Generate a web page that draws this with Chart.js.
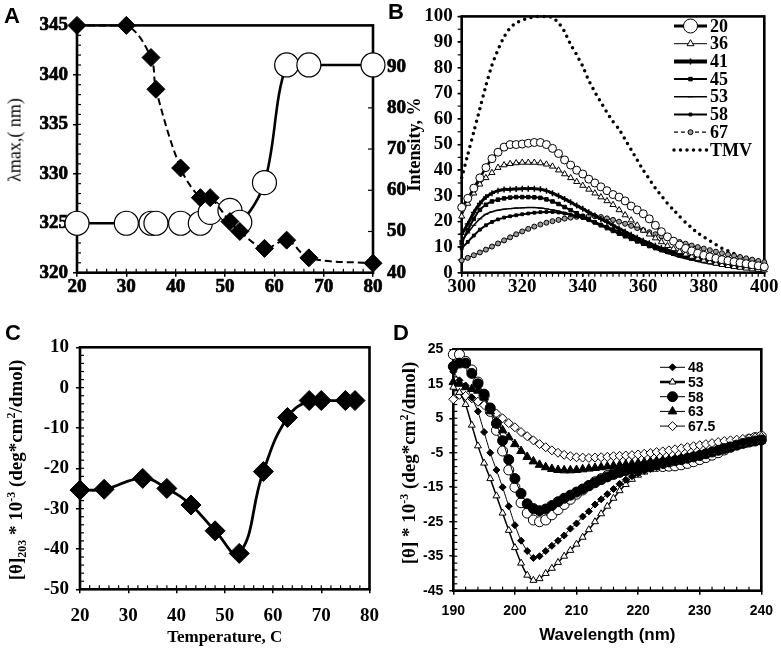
<!DOCTYPE html>
<html>
<head>
<meta charset="utf-8">
<script src="https://cdn.jsdelivr.net/npm/chart.js@4.4.1/dist/chart.umd.min.js"></script>
<style>
  html, body { margin: 0; padding: 0; background: #fff; }
  #wrap { position: relative; width: 781px; height: 649px; overflow: hidden; }
  canvas { position: absolute; }
  #titleA {
    position: absolute; left: 15px; top: 140px;
    transform: translate(-50%, -50%) rotate(-90deg);
    font: 18px "Liberation Serif", "Times New Roman", serif; color: #000; white-space: nowrap;
  }
</style>
</head>
<body>
<div id="wrap">
  <canvas id="chartA" width="410" height="310" style="left:0px;top:0px"></canvas>
  <div id="titleA">λmax,( nm)</div>
  <canvas id="chartB" width="401" height="310" style="left:380px;top:0px"></canvas>
  <canvas id="chartC" width="390" height="329" style="left:0px;top:320px"></canvas>
  <canvas id="chartD" width="391" height="329" style="left:390px;top:320px"></canvas>
</div>
<script>
var SERIF = '"Liberation Serif", "Times New Roman", serif';
var SANS = '"Liberation Sans", Arial, sans-serif';

// ---- panel A: lambda max and intensity vs temperature
var tempA = [20, 30, 35, 36, 41, 45, 47, 51, 53, 58, 62.5, 67, 80];
var lambdaMaxA = [325, 325, 325, 325, 325, 325, 326.1, 326.3, 325.1, 329.1, 341, 341, 341];
var intensityA = [100, 100, 92.2, 84.5, 65.4, 58.2, 58.2, 52.4, 50, 45.9, 47.9, 43.6, 42.3];

// ---- panel B: emission spectra (intensity %) vs wavelength
var wavelengthB = [300, 302, 304, 306, 308, 310, 312, 314, 316, 318, 320, 322, 324, 326, 328, 330, 332, 334, 336, 338,
  340, 342, 344, 346, 348, 350, 352, 354, 356, 358, 360, 362, 364, 366, 368, 370, 372, 374, 376, 378,
  380, 382, 384, 386, 388, 390, 392, 394, 396, 398, 400];
var spec20 = [25.5, 29, 33, 37, 41, 44.5, 47, 49, 50, 50, 50.2, 50.5, 50.8, 50.8, 50, 48.5, 46.5, 44, 42, 40,
  38.5, 36.5, 35, 33.5, 32, 30.5, 29.5, 28, 26, 24.5, 23, 21, 18.5, 16, 14, 12.3, 10.8, 9.5, 8.5, 7.6,
  6.8, 6.2, 5.6, 5.1, 4.7, 4.3, 3.9, 3.5, 3.1, 2.7, 2.3];
var spec36 = [22, 27, 31, 34.5, 37, 39, 41, 42, 42.5, 42.8, 43, 43, 43, 42.8, 42.3, 41.5, 40, 38.5, 37, 35.5,
  34, 32.5, 31, 29.5, 28, 26.5, 24.5, 22.5, 20.5, 18.5, 16.5, 15, 13.5, 12, 10.5, 9.3, 8.2, 7.2, 6.3, 5.5,
  4.8, 4.2, 3.6, 3.1, 2.7, 2.3, 2, 1.7, 1.4, 1.2, 1];
var spec41 = [15, 19, 23.5, 27, 29.5, 31, 32, 32.5, 32.5, 32.7, 32.8, 32.8, 32.8, 32.6, 32, 31, 30, 28.8, 27.5, 26.2,
  25, 23.6, 22.3, 21, 19.8, 18.5, 17.2, 16, 14.8, 13.6, 12.5, 11.5, 10.5, 9.6, 8.8, 8, 7.3, 6.6, 6, 5.5,
  5, 4.6, 4.2, 3.9, 3.6, 3.3, 3.1, 2.9, 2.7, 2.5, 2.3];
var spec45 = [11.5, 16.5, 21, 24.5, 26.5, 27.8, 28.5, 29, 29.3, 29.5, 29.5, 29.5, 29.4, 29.2, 28.6, 27.8, 26.8, 25.6, 24.4, 23.2,
  22, 20.8, 19.6, 18.5, 17.4, 16.3, 15.2, 14.2, 13.2, 12.2, 11.3, 10.4, 9.6, 8.8, 8.1, 7.4, 6.8, 6.2, 5.7, 5.2,
  4.8, 4.4, 4, 3.7, 3.4, 3.1, 2.9, 2.7, 2.5, 2.3, 2.2];
var spec53 = [12.5, 15.5, 18.5, 21, 22.8, 23.8, 24.4, 24.8, 25, 25.2, 25.3, 25.4, 25.4, 25.2, 24.9, 24.5, 24, 23.4, 22.8, 22,
  21.2, 20.3, 19.3, 18.3, 17.3, 16.2, 15.2, 14.2, 13.2, 12.2, 11.2, 10.2, 9.3, 8.4, 7.6, 6.8, 6.1, 5.5, 4.9, 4.4,
  3.9, 3.5, 3.1, 2.8, 2.5, 2.2, 2, 1.8, 1.6, 1.4, 1.3];
var spec58 = [9.5, 12, 14.5, 16.8, 18.5, 19.8, 20.8, 21.5, 22, 22.4, 22.8, 23.1, 23.4, 23.6, 23.7, 23.7, 23.5, 23.1, 22.6, 22,
  21.3, 20.5, 19.7, 18.8, 17.9, 17, 16, 15, 14, 13, 12, 11.1, 10.2, 9.3, 8.5, 7.7, 7, 6.3, 5.7, 5.1,
  4.6, 4.2, 3.8, 3.4, 3.1, 2.8, 2.6, 2.4, 2.2, 2, 1.9];
var spec67 = [4.8, 5.8, 6.8, 7.9, 9, 10.2, 11.4, 12.6, 13.8, 15, 16.1, 17.1, 18, 18.8, 19.5, 20.1, 20.6, 21.1, 21.5, 21.8,
  22, 22.1, 22, 21.7, 21.2, 20.6, 19.9, 19.1, 18.3, 17.4, 16.6, 15.8, 15, 14.2, 13.4, 12.7, 12, 11.3, 10.6, 10,
  9.4, 8.8, 8.2, 7.6, 7.1, 6.6, 6.1, 5.6, 5.1, 4.6, 4.1];
var specTMV = [37, 46, 55, 64, 73, 81, 87, 92, 95.5, 97.5, 98.5, 99.3, 99.8, 100, 100, 99.5, 97.5, 94, 89, 85,
  80.5, 75, 70.5, 66.5, 62.5, 59, 56, 52, 48, 44, 40, 36.5, 33, 30, 27, 24.5, 22, 19.5, 17.5, 15.5,
  14, 12.5, 11, 9.5, 8.5, 7.5, 6.5, 5.5, 4.8, 4.2, 3.7];

// ---- panel C: ellipticity at 203 nm vs temperature
var tempC = [20, 25, 33, 38, 43, 48, 53, 58, 63, 67.5, 70, 75, 77];
var theta203 = [-25.4, -25.2, -22.5, -25, -29.1, -35.5, -41.1, -20.8, -7.4, -3.2, -3.2, -3.2, -3.2];

// ---- panel D: CD spectra vs wavelength
var wavelengthD = [190, 191, 192, 193, 194, 195, 196, 197, 198, 199, 200, 201, 202, 203, 204, 205, 206, 207, 208, 209,
  210, 211, 212, 213, 214, 215, 216, 217, 218, 219, 220, 221, 222, 223, 224, 225, 226, 227, 228, 229,
  230, 231, 232, 233, 234, 235, 236, 237, 238, 239, 240];
var cd48 = [18.5, 16, 14.5, 11, 7, 1, -5, -10, -15, -20.5, -26, -30.5, -33.5, -35.5, -35, -33.5, -32, -30.5, -29, -27,
  -25.5, -23.5, -22, -20, -18.5, -17, -15.5, -14, -12.8, -11.8, -11, -10.3, -9.7, -9.2, -8.7, -8.2, -7.7, -7.2, -6.7, -6.2,
  -5.7, -5.2, -4.7, -4.2, -3.7, -3.2, -2.8, -2.4, -2, -1.7, -1.4];
var cd53 = [14, 12.5, 9, 3, -3, -8, -12.5, -17.5, -22.5, -27.5, -32.5, -37, -40.5, -42, -41.5, -40, -38.5, -36.8, -35, -33.3,
  -31.5, -29.5, -27.3, -25, -22.7, -20.5, -18.2, -16, -14.2, -12.7, -11.5, -10.6, -9.9, -9.3, -8.8, -8.3, -7.8, -7.3, -6.8, -6.3,
  -5.8, -5.3, -4.8, -4.3, -3.8, -3.3, -2.9, -2.5, -2.1, -1.8, -1.5];
var cd58 = [20, 21, 21, 18, 15, 12, 8, 3.5, -1.5, -7, -12.5, -16.8, -19.8, -21.2, -21.8, -21.3, -20.3, -19.2, -18.2, -17.3,
  -16.4, -15.5, -14.6, -13.7, -12.8, -12, -11.3, -10.7, -10.1, -9.6, -9.2, -8.8, -8.5, -8.2, -7.9, -7.6, -7.3, -7, -6.6, -6.2,
  -5.8, -5.3, -4.8, -4.3, -3.8, -3.3, -2.8, -2.3, -1.9, -1.6, -1.3];
var cd63 = [15.5, 15, 14, 13.5, 13, 11, 7, 4, 1.5, -0.5, -2.5, -4.5, -6.2, -7.5, -8.5, -9.2, -9.7, -10, -10.1, -10.1,
  -10, -9.8, -9.6, -9.4, -9.2, -9, -8.8, -8.6, -8.4, -8.2, -8, -7.8, -7.6, -7.4, -7.2, -7, -6.8, -6.5, -6.2, -5.9,
  -5.5, -5.1, -4.7, -4.3, -3.9, -3.5, -3.1, -2.7, -2.3, -1.9, -1.5];
var cd675 = [10.5, 11.8, 11.5, 10.8, 9.8, 8.8, 7.6, 6.4, 5, 3.6, 2.4, 1, -0.2, -1.4, -2.5, -3.4, -4.3, -5, -5.6, -6,
  -6.3, -6.4, -6.5, -6.4, -6.3, -6.2, -6, -5.9, -5.8, -5.7, -5.5, -5.3, -5.1, -4.8, -4.6, -4.3, -4, -3.7, -3.4, -3.1,
  -2.8, -2.5, -2.2, -1.9, -1.6, -1.4, -1.2, -1, -0.8, -0.6, -0.4];
var cdOpen = [23.5, 23.5, 21.5, 19, 15.5, 11.5, 7, 1.5, -4.5, -10, -15, -19.5, -22.5, -24.5, -25, -24.5, -23, -21.5, -20, -18.5,
  -17, -15.8, -14.5, -13.4, -12.5, -11.6, -11, -10.5, -10.1, -9.7, -9.4, -9.2, -9, -9, -9, -8.9, -8.8, -8.5, -8.1, -7.6,
  -7, -6.4, -5.7, -5, -4.2, -3.4, -2.6, -1.8, -1.1, -0.6, -0.3];

Chart.defaults.color = '#000';
Chart.defaults.font.family = SERIF;
Chart.defaults.font.weight = 'bold';

function pts(xs, ys) {
  return xs.map(function (x, i) { return { x: x, y: ys[i] }; });
}

function grid(len) {
  return { display: true, drawOnChartArea: false, drawTicks: len > 0, tickLength: len, color: '#000', lineWidth: 1.5 };
}

function tickFont(family, size) {
  return { family: family, size: size, weight: 'bold' };
}

// box round the plot and small minor ticks
function frameTicks(minor) {
  return {
    id: 'frameTicks',
    beforeDatasetsDraw: function (chart) {
      var ctx = chart.ctx, a = chart.chartArea;
      ctx.save();
      ctx.strokeStyle = '#000';
      ctx.lineWidth = 1.2;
      minor.forEach(function (m) {
        var sc = chart.scales[m.axis];
        var dir = m.inward ? 1 : -1;
        for (var v = sc.min; v <= sc.max + 1e-9; v += m.step) {
          var p = sc.getPixelForValue(v);
          ctx.beginPath();
          if (sc.isHorizontal()) {
            ctx.moveTo(p, a.bottom); ctx.lineTo(p, a.bottom - dir * m.len);
          } else if (sc.position === 'left') {
            ctx.moveTo(a.left, p); ctx.lineTo(a.left + dir * m.len, p);
          } else {
            ctx.moveTo(a.right, p); ctx.lineTo(a.right - dir * m.len, p);
          }
          ctx.stroke();
        }
      });
      ctx.lineWidth = 2.6;
      ctx.strokeRect(a.left, a.top, a.right - a.left, a.bottom - a.top);
      ctx.restore();
    }
  };
}

function panelLabel(text, x, y, clear) {
  return {
    id: 'panelLabel',
    afterDraw: function (chart) {
      var ctx = chart.ctx;
      ctx.save();
      if (clear) {
        ctx.fillStyle = '#fff';
        ctx.fillRect(clear[0], clear[1], clear[2], clear[3]);
      }
      ctx.fillStyle = '#000';
      ctx.font = '900 22px ' + SANS;
      ctx.textBaseline = 'top';
      ctx.fillText(text, x, y);
      ctx.restore();
    }
  };
}

// legend with a short line sample and the marker on it
function lineLegend(x, y, rowH, lineLen, font) {
  return {
    id: 'lineLegend',
    afterDraw: function (chart) {
      var ctx = chart.ctx, row = 0;
      chart.data.datasets.forEach(function (ds) {
        if (!ds.label) return;
        var yy = y + row * rowH;
        row++;
        ctx.save();
        ctx.strokeStyle = ds.borderColor;
        ctx.lineWidth = ds.legendWidth || ds.borderWidth;
        ctx.setLineDash(ds.borderDash || []);
        ctx.lineCap = ds.borderCapStyle || 'butt';
        ctx.beginPath();
        ctx.moveTo(x, yy);
        ctx.lineTo(x + lineLen, yy);
        ctx.stroke();
        ctx.setLineDash([]);
        if (ds.pointRadius > 0) {
          ctx.fillStyle = ds.pointBackgroundColor;
          ctx.strokeStyle = ds.pointBorderColor;
          ctx.lineWidth = ds.pointBorderWidth;
          Chart.helpers.drawPoint(ctx, {
            pointStyle: ds.pointStyle, rotation: 0,
            radius: ds.legendRadius || ds.pointRadius, borderWidth: ds.pointBorderWidth
          }, x + lineLen / 2, yy);
        }
        ctx.fillStyle = '#000';
        ctx.font = font;
        ctx.textBaseline = 'middle';
        ctx.textAlign = 'left';
        ctx.fillText(ds.label, x + lineLen + 3, yy + 1);
        ctx.restore();
      });
    }
  };
}

// rotated bold axis title, parts may be sub- or superscript
function richTitle(parts, cx, cy, size) {
  return {
    id: 'richTitle',
    afterDraw: function (chart) {
      var ctx = chart.ctx;
      var small = Math.round(size * 0.62);
      ctx.save();
      ctx.translate(cx, cy);
      ctx.rotate(-Math.PI / 2);
      ctx.fillStyle = '#000';
      ctx.textBaseline = 'alphabetic';
      var widths = parts.map(function (p) {
        ctx.font = 'bold ' + (p.sub || p.sup ? small : size) + 'px ' + SERIF;
        return ctx.measureText(p.t).width;
      });
      var x = -widths.reduce(function (s, v) { return s + v; }, 0) / 2;
      var base = size * 0.32;
      parts.forEach(function (p, i) {
        ctx.font = 'bold ' + (p.sub || p.sup ? small : size) + 'px ' + SERIF;
        var dy = p.sub ? size * 0.22 : (p.sup ? -size * 0.38 : 0);
        ctx.fillText(p.t, x, base + dy);
        x += widths[i];
      });
      ctx.restore();
    }
  };
}

var baseOpts = {
  responsive: false,
  animation: false,
  devicePixelRatio: 1,
  plugins: { legend: { display: false }, tooltip: { enabled: false } }
};

function opts(extra) {
  return Object.assign({}, baseOpts, extra);
}

// ---------------- A ----------------
var heavyA = { textStrokeColor: '#000', textStrokeWidth: 0.7 };
new Chart(document.getElementById('chartA'), {
  type: 'line',
  data: {
    datasets: [{
      label: 'intensity',
      data: pts(tempA, intensityA),
      yAxisID: 'y1',
      borderColor: '#000', borderWidth: 2, borderDash: [7, 4],
      pointStyle: 'rectRot', pointRadius: 9,
      pointBackgroundColor: '#000', pointBorderColor: '#000', pointBorderWidth: 1,
      tension: 0.35, clip: false
    }, {
      label: 'lambda',
      data: pts(tempA, lambdaMaxA),
      yAxisID: 'y',
      borderColor: '#000', borderWidth: 2.6,
      pointStyle: 'circle', pointRadius: 12,
      pointBackgroundColor: '#fff', pointBorderColor: '#000', pointBorderWidth: 1.2,
      tension: 0.35, clip: false
    }]
  },
  options: opts({
    layout: { padding: { top: 15.7, left: 0, right: 0, bottom: 0 } },
    scales: {
      x: {
        type: 'linear', min: 20, max: 80,
        ticks: Object.assign({ stepSize: 10, autoSkip: false, padding: -1, maxRotation: 0, font: tickFont(SERIF, 19) }, heavyA),
        grid: grid(4), border: { display: false },
        afterFit: function (s) { s.height = 37.3; }
      },
      y: {
        position: 'left', min: 320, max: 345,
        ticks: Object.assign({ stepSize: 5, autoSkip: false, padding: 5, font: tickFont(SERIF, 19) }, heavyA),
        grid: grid(4), border: { display: false },
        afterFit: function (s) { s.width = 77; }
      },
      y1: {
        position: 'right', min: 40, max: 100,
        ticks: Object.assign({ stepSize: 10, autoSkip: false, padding: 14, font: tickFont(SERIF, 19) }, heavyA),
        grid: grid(0), border: { display: false },
        afterFit: function (s) { s.width = 37; }
      }
    }
  }),
  plugins: [
    frameTicks([{ axis: 'y', step: 1, len: 4, inward: true }, { axis: 'x', step: 2, len: 4, inward: true },
      { axis: 'y1', step: 10, len: 5, inward: true }]),
    panelLabel('A', 4, 6)
  ]
});

// ---------------- B ----------------
function specSet(label, values, style) {
  return Object.assign({
    label: label,
    data: pts(wavelengthB, values),
    borderColor: '#000', borderWidth: 1.5,
    pointBackgroundColor: '#000', pointBorderColor: '#000', pointBorderWidth: 1,
    pointRadius: 2, pointStyle: 'circle',
    tension: 0.2, clip: false
  }, style);
}

new Chart(document.getElementById('chartB'), {
  type: 'line',
  data: {
    datasets: [
      specSet('20', spec20, { borderWidth: 2.5, pointRadius: 4, pointBackgroundColor: '#fff', legendRadius: 7, legendWidth: 3 }),
      specSet('36', spec36, { borderWidth: 1, pointStyle: 'triangle', pointRadius: 3.5, pointBackgroundColor: '#fff', legendRadius: 4 }),
      specSet('41', spec41, { borderWidth: 3, pointStyle: 'cross', pointRadius: 3, pointBorderWidth: 1.5, legendWidth: 4 }),
      specSet('45', spec45, { borderWidth: 2, pointStyle: 'rect', pointRadius: 2.5 }),
      specSet('53', spec53, { borderWidth: 1.5, pointStyle: 'line', pointRadius: 2.5 }),
      specSet('58', spec58, { borderWidth: 2, pointStyle: 'rect', pointRadius: 2 }),
      specSet('67', spec67, { borderWidth: 1.2, borderDash: [4, 3], pointRadius: 2.5, pointBackgroundColor: '#999' }),
      specSet('TMV', specTMV, { borderWidth: 3.5, borderDash: [0, 6.5], borderCapStyle: 'round', pointRadius: 0 })
    ]
  },
  options: opts({
    layout: { padding: { top: 15.7, left: 20, right: 16.7, bottom: 0 } },
    scales: {
      x: {
        type: 'linear', min: 300, max: 400,
        ticks: { stepSize: 20, autoSkip: false, padding: -1, maxRotation: 0, font: tickFont(SERIF, 19) },
        grid: grid(4), border: { display: false },
        afterFit: function (s) { s.height = 37.3; }
      },
      y: {
        position: 'left', min: 0, max: 100,
        ticks: { stepSize: 10, autoSkip: false, padding: 5, font: tickFont(SERIF, 19) },
        grid: grid(4), border: { display: false },
        title: { display: true, text: 'Intensity, %', padding: { top: 5, bottom: 0 }, font: { family: SERIF, size: 18, weight: 'bold' } },
        afterFit: function (s) { s.width = 61.7; }
      }
    }
  }),
  plugins: [
    frameTicks([{ axis: 'y', step: 5, len: 4, inward: false }, { axis: 'x', step: 2, len: 4, inward: false }]),
    lineLegend(294, 26, 17.7, 33, 'bold 18px ' + SERIF),
    panelLabel('B', 8, 2, [0, 0, 40, 32])
  ]
});

// ---------------- C ----------------
new Chart(document.getElementById('chartC'), {
  type: 'line',
  data: {
    datasets: [{
      label: 'theta203',
      data: pts(tempC, theta203),
      borderColor: '#000', borderWidth: 2.8,
      pointStyle: 'rectRot', pointRadius: 10,
      pointBackgroundColor: '#000', pointBorderColor: '#000', pointBorderWidth: 1,
      tension: 0.45, clip: false
    }]
  },
  options: opts({
    layout: { padding: { top: 27.3, left: 0, right: 13.3, bottom: 0 } },
    scales: {
      x: {
        type: 'linear', min: 20, max: 80,
        ticks: { stepSize: 10, autoSkip: false, padding: 11, maxRotation: 0, font: tickFont(SERIF, 19) },
        grid: grid(4), border: { display: false },
        title: { display: true, text: 'Temperature, C', padding: { top: 0, bottom: 1.5 }, font: { family: SERIF, size: 17, weight: 'bold' } },
        afterFit: function (s) { s.height = 59.7; }
      },
      y: {
        position: 'left', min: -50, max: 10,
        ticks: { stepSize: 10, autoSkip: false, padding: 7, font: tickFont(SERIF, 19) },
        grid: grid(4), border: { display: false },
        afterFit: function (s) { s.width = 80; }
      }
    }
  }),
  plugins: [
    frameTicks([{ axis: 'y', step: 2, len: 4, inward: true }, { axis: 'x', step: 2, len: 4, inward: true }]),
    richTitle([{ t: '[θ]' }, { t: '203', sub: true }, { t: ' * 10' }, { t: '-3', sup: true },
      { t: ' (deg*cm' }, { t: '2', sup: true }, { t: '/dmol)' }], 16, 150, 19),
    panelLabel('C', 5, 3)
  ]
});

// ---------------- D ----------------
function cdSet(label, values, style) {
  return Object.assign({
    label: label,
    data: pts(wavelengthD, values),
    borderColor: '#000', borderWidth: 1,
    pointBackgroundColor: '#000', pointBorderColor: '#000', pointBorderWidth: 1,
    pointRadius: 4, pointStyle: 'circle',
    tension: 0.2, clip: false
  }, style);
}

new Chart(document.getElementById('chartD'), {
  type: 'line',
  data: {
    datasets: [
      cdSet('48', cd48, { pointStyle: 'rectRot', pointRadius: 3.5 }),
      cdSet('53', cd53, { borderWidth: 1.5, pointStyle: 'triangle', pointRadius: 4, pointBackgroundColor: '#fff', legendWidth: 2.5 }),
      cdSet('58', cd58, { pointStyle: 'circle', pointRadius: 5 }),
      cdSet('63', cd63, { pointStyle: 'triangle', pointRadius: 5 }),
      cdSet('67.5', cd675, { pointStyle: 'rectRot', pointRadius: 4.5, pointBackgroundColor: '#fff' }),
      cdSet('', cdOpen, { pointStyle: 'circle', pointRadius: 5, pointBackgroundColor: '#fff' })
    ]
  },
  options: opts({
    layout: { padding: { top: 29.3, left: 0, right: 19.3, bottom: 0 } },
    scales: {
      x: {
        type: 'linear', min: 190, max: 240,
        ticks: { stepSize: 10, autoSkip: false, padding: 8, maxRotation: 0, font: tickFont(SANS, 14) },
        grid: grid(4), border: { display: false },
        title: { display: true, text: 'Wavelength (nm)', padding: { top: 0, bottom: 3.5 }, font: { family: SANS, size: 17, weight: 'bold' } },
        afterFit: function (s) { s.height = 58.3; }
      },
      y: {
        position: 'left', min: -45, max: 25,
        ticks: { stepSize: 10, autoSkip: false, padding: 6, font: tickFont(SANS, 14) },
        grid: grid(4), border: { display: false },
        afterFit: function (s) { s.width = 63.3; }
      }
    }
  }),
  plugins: [
    frameTicks([{ axis: 'y', step: 2, len: 4, inward: true }, { axis: 'x', step: 2, len: 4, inward: true }]),
    lineLegend(270, 47.3, 14.7, 25, 'bold 14px ' + SANS),
    richTitle([{ t: '[θ] * 10' }, { t: '-3', sup: true }, { t: ' (deg*cm' }, { t: '2', sup: true }, { t: '/dmol)' }], 19, 143, 19),
    panelLabel('D', 3, 3)
  ]
});
</script>
</body>
</html>
